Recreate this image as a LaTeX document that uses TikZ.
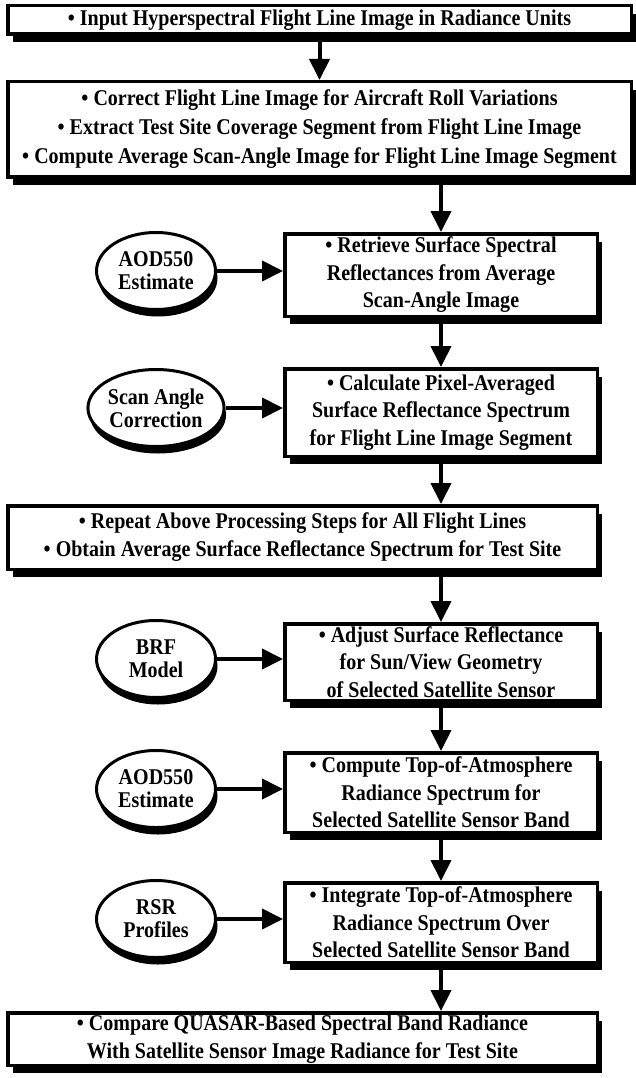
\documentclass[tikz,border=0pt]{standalone}
\usepackage{fontspec}
\setmainfont{Liberation Serif}[FakeStretch=0.89]
\usetikzlibrary{arrows.meta,shadows,shapes.geometric}
\begin{document}
\begin{tikzpicture}[x=1pt,y=-1pt,
  box/.style={draw, line width=3.5pt, fill=white, align=center, inner sep=0pt,
    font=\bfseries\fontsize{22.5}{27.5}\selectfont,
    drop shadow={shadow xshift=5pt, shadow yshift=-8pt, fill=black, opacity=1}},
  oval/.style={ellipse, draw, line width=3pt, fill=white, align=center, inner sep=0pt,
    minimum width=119pt, minimum height=77pt,
    font=\bfseries\fontsize{22.5}{23}\selectfont,
    drop shadow={shadow xshift=2pt, shadow yshift=-7pt, fill=black, opacity=1}},
  arr/.style={line width=4pt, -{Triangle[length=21pt,width=20pt]}}
]
\useasboundingbox (0,0) rectangle (636,1078);

\node[box, minimum width=623.5pt, minimum height=28.5pt] (b1) at (319.5,20)
  {• Input Hyperspectral Flight Line Image in Radiance Units};
\node[box, minimum width=623.5pt, minimum height=95.5pt, font=\bfseries\fontsize{22.5}{29}\selectfont] (b2) at (319.5,129.5)
  {• Correct Flight Line Image for Aircraft Roll Variations\\
   • Extract Test Site Coverage Segment from Flight Line Image\\
   • Compute Average Scan-Angle Image for Flight Line Image Segment};
\node[box, minimum width=312.5pt, minimum height=82.5pt] (b3) at (441,275)
  {• Retrieve Surface Spectral\\ Reflectances from Average\\ Scan-Angle Image};
\node[box, minimum width=312.5pt, minimum height=87.5pt] (b4) at (441,412.5)
  {• Calculate Pixel-Averaged\\ Surface Reflectance Spectrum\\ for Flight Line Image Segment};
\node[box, minimum width=589.5pt, minimum height=63.5pt, font=\bfseries\fontsize{22.5}{28}\selectfont] (b5) at (302.5,537.5)
  {• Repeat Above Processing Steps for All Flight Lines\\
   • Obtain Average Surface Reflectance Spectrum for Test Site};
\node[box, minimum width=312.5pt, minimum height=76.5pt] (b6) at (441,662)
  {• Adjust Surface Reflectance\\ for Sun/View Geometry\\ of Selected Satellite Sensor};
\node[box, minimum width=312.5pt, minimum height=79.5pt] (b7) at (441,792.5)
  {• Compute Top-of-Atmosphere\\ Radiance Spectrum for\\ Selected Satellite Sensor Band};
\node[box, minimum width=312.5pt, minimum height=79.5pt] (b8) at (441,922.5)
  {• Integrate Top-of-Atmosphere\\ Radiance Spectrum Over\\ Selected Satellite Sensor Band};
\node[box, minimum width=589.5pt, minimum height=52.5pt, font=\bfseries\fontsize{22.5}{28}\selectfont] (b9) at (302.5,1039)
  {• Compare QUASAR-Based Spectral Band Radiance\\
   With Satellite Sensor Image Radiance for Test Site};

\node[oval] (e1) at (156,271) {AOD550\\Estimate};
\node[oval] (e2) at (156,408) {Scan Angle\\Correction};
\node[oval] (e3) at (156,659) {BRF\\Model};
\node[oval] (e4) at (156,789) {AOD550\\Estimate};
\node[oval] (e5) at (156,919) {RSR\\Profiles};

\draw[arr] (b1.south) -- (b2.north);
\draw[arr] (b3.north |- b2.south) -- (b3.north);
\draw[arr] (b3.south) -- (b4.north);
\draw[arr] (b4.south) -- (b4.south |- b5.north);
\draw[arr] (b6.north |- b5.south) -- (b6.north);
\draw[arr] (b6.south) -- (b7.north);
\draw[arr] (b7.south) -- (b8.north);
\draw[arr] (b8.south) -- (b8.south |- b9.north);

\draw[arr] (e1.east) -- (b3.west |- e1.east);
\draw[arr] (e2.east) -- (b4.west |- e2.east);
\draw[arr] (e3.east) -- (b6.west |- e3.east);
\draw[arr] (e4.east) -- (b7.west |- e4.east);
\draw[arr] (e5.east) -- (b8.west |- e5.east);
\end{tikzpicture}
\end{document}
